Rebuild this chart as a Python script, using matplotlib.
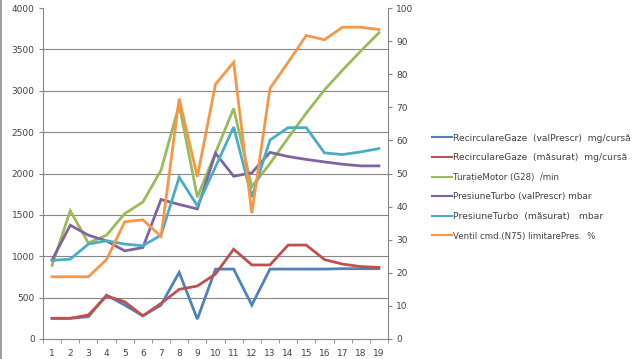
import numpy as np
import matplotlib
matplotlib.use('Agg')
import matplotlib.pyplot as plt
from matplotlib.lines import Line2D

plt.rcParams['font.family'] = ['DejaVu Sans']

# ---- data ----
cats = list(range(1, 20))

egr_prescr = [250, 250, 270, 530, 410, 280, 410, 805, 240, 845,
              845, 410, 845, 845, 845, 845, 850, 850, 850]
egr_meas = [250, 250, 290, 520, 450, 280, 430, 600, 640, 785,
            1085, 895, 895, 1135, 1135, 960, 905, 875, 865]
rpm = [890, 1550, 1160, 1255, 1515, 1655, 2040, 2830, 1715, 2250,
       2785, 1840, 2120, 2430, 2730, 3010, 3250, 3480, 3700]
boost_prescr = [955, 1375, 1255, 1185, 1065, 1105, 1686, 1626, 1572, 2245,
                1967, 2008, 2255, 2205, 2170, 2140, 2112, 2092, 2092]
boost_meas = [950, 965, 1147, 1187, 1147, 1127, 1255, 1955, 1610, 2080,
              2562, 1715, 2405, 2554, 2554, 2249, 2229, 2261, 2301]
n75_pct = [18.8, 18.8, 18.8, 24.0, 35.4, 36.0, 31.0, 72.6, 49.0, 77.0,
           83.6, 38.0, 75.7, 83.6, 91.7, 90.4, 94.2, 94.2, 93.5]

labels = ['RecirculareGaze  (valPrescr)  mg/cursă',
          'RecirculareGaze  (măsurat)  mg/cursă',
          'TurațieMotor (G28)  /min',
          'PresiuneTurbo (valPrescr) mbar',
          'PresiuneTurbo  (măsurat)   mbar',
          'Ventil cmd.(N75) limitarePres.  %']
colors = ['#4F81BD', '#C0504D', '#9BBB59', '#8064A2', '#4BACC6', '#F79646']
label_sizes = [6.6, 6.6, 6.2, 6.4, 6.7, 6.2]

fig = plt.figure(figsize=(6.4, 3.59), dpi=100)
ax = fig.add_axes([43 / 640, 20 / 359, 345 / 640, 331 / 359])
ax2 = ax.twinx()

x = np.arange(len(cats))
lines = []
for ys, c in zip([egr_prescr, egr_meas, rpm, boost_prescr, boost_meas], colors[:5]):
    l, = ax.plot(x, ys, color=c, lw=2.0, solid_joinstyle='miter')
    lines.append(l)
l, = ax2.plot(x, n75_pct, color=colors[5], lw=2.0, solid_joinstyle='miter')
lines.append(l)

grid_c = '#868686'
ax.set_xlim(-0.5, len(cats) - 0.5)
ax.set_ylim(0, 4000)
ax2.set_ylim(0, 100)
ax.set_yticks(np.arange(0, 4001, 500))
ax2.set_yticks(np.arange(0, 101, 10))
for v in np.arange(500, 4000, 500):
    ax.axhline(v, color=grid_c, lw=0.8, zorder=0)

ax.set_xticks(x)
ax.set_xticklabels([str(c) for c in cats])
ax.set_xticks(np.arange(-0.5, len(cats), 1), minor=True)
ax.tick_params(axis='x', which='major', length=0, labelsize=6.5, colors='#404040', pad=7)
ax.tick_params(axis='x', which='minor', length=3, color=grid_c, direction='out')
ax.tick_params(axis='y', length=3, color=grid_c, labelsize=6.5, labelcolor='#404040', pad=3)
ax2.tick_params(axis='y', length=3, color=grid_c, labelsize=6.5, labelcolor='#404040', pad=3)

for a in (ax, ax2):
    a.spines['top'].set_visible(False)
    for s in ('left', 'right', 'bottom'):
        a.spines[s].set_color(grid_c)
        a.spines[s].set_linewidth(0.8)
ax.spines['right'].set_visible(False)
ax2.spines['left'].set_visible(False)
ax2.spines['bottom'].set_visible(False)

leg = fig.legend(lines, labels, loc='upper left', bbox_to_anchor=(428 / 640, 1 - 130 / 359),
                 frameon=False, handlelength=2.2, handletextpad=0.1,
                 labelspacing=1.15, fontsize=6.6, borderaxespad=0)
for t, s in zip(leg.get_texts(), label_sizes):
    t.set_fontsize(s)
    t.set_color('#404040')
for h in leg.get_lines():
    h.set_linewidth(1.5)

fig.add_artist(Line2D([1 / 640, 1 / 640], [0, 1], color='#a0a0a0', lw=1.5))

fig.savefig('out.png', dpi=100)
